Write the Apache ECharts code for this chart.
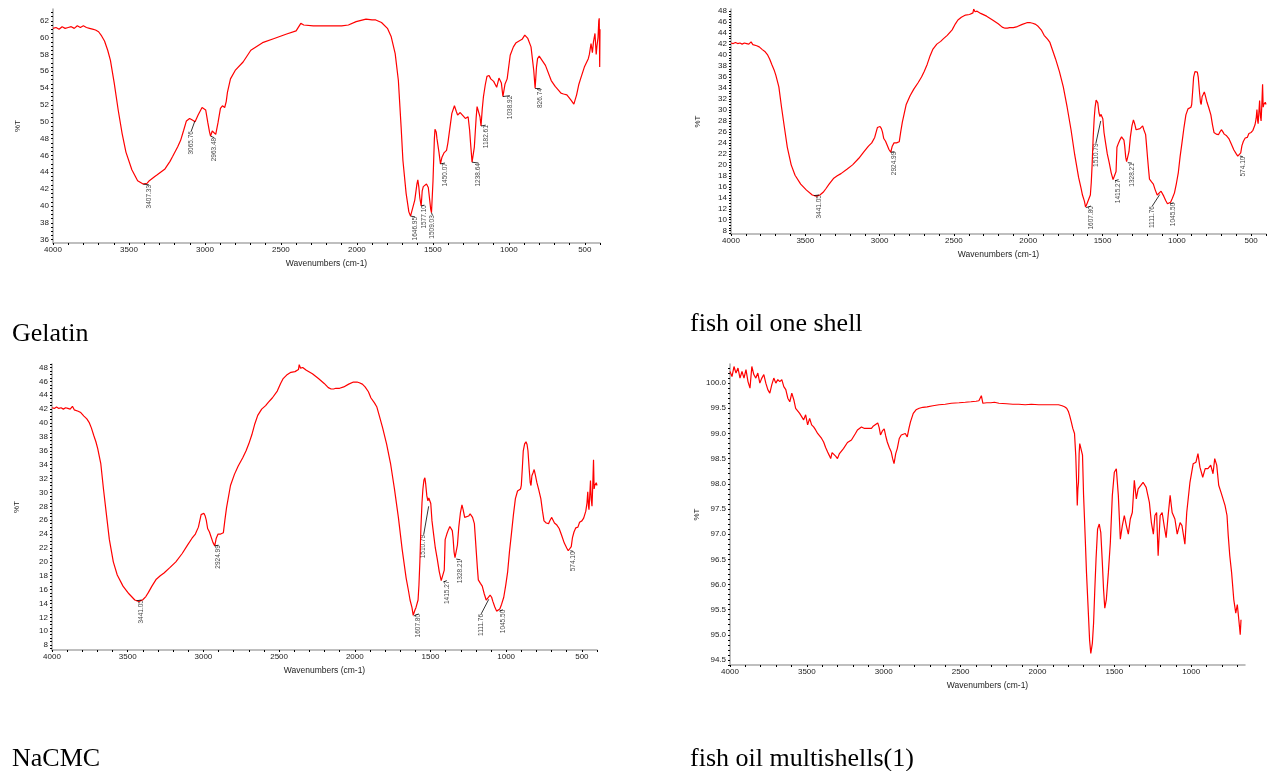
<!DOCTYPE html>
<html>
<head>
<meta charset="utf-8">
<style>
  html, body { margin: 0; padding: 0; background: #fff; }
  #chart { width: 1268px; height: 771px; }
</style>
<script src="https://cdn.jsdelivr.net/npm/echarts@6/dist/echarts.min.js"></script>
</head>
<body>
<div id="chart"></div>
<script>
// spectra, [wavenumber cm-1, %T]
const gelatin = [
  [4000,61.1],[3980,61.2],[3960,61.0],[3940,61.3],[3920,61.1],[3900,61.2],[3880,61.3],[3860,61.1],[3840,61.4],[3820,61.2],
  [3800,61.4],[3780,61.2],[3760,61.1],[3740,61.0],[3720,60.9],[3700,60.7],[3680,60.2],[3661,59.6],[3640,58.5],[3622,57.3],
  [3597,54.6],[3571,51.4],[3545,48.6],[3520,46.4],[3481,44.3],[3443,43.0],[3407,42.6],[3380,42.7],[3366,43.0],[3330,43.5],
  [3314,43.7],[3263,44.4],[3230,45.3],[3212,45.9],[3180,47.0],[3160,47.8],[3140,49.0],[3122,50.1],[3101,50.4],[3083,50.2],
  [3065,50.0],[3045,50.8],[3019,51.7],[3006,51.8],[2995,51.4],[2981,49.9],[2970,48.8],[2963,48.3],[2952,48.9],[2942,48.8],
  [2929,48.5],[2914,49.9],[2898,51.6],[2885,51.9],[2870,51.7],[2860,52.4],[2852,53.5],[2832,55.1],[2801,56.1],[2749,57.1],
  [2698,58.5],[2621,59.4],[2544,59.9],[2467,60.4],[2400,60.8],[2369,61.7],[2350,61.5],[2339,61.5],[2287,61.4],[2200,61.4],
  [2100,61.4],[2056,61.5],[2005,61.9],[1940,62.2],[1900,62.1],[1876,62.1],[1838,61.8],[1799,61.1],[1774,60.1],[1748,58.1],
  [1727,54.9],[1709,49.4],[1697,45.4],[1676,41.5],[1658,39.3],[1647,38.8],[1635,39.0],[1619,40.7],[1605,42.6],[1599,43.1],
  [1592,42.2],[1586,41.0],[1577,40.0],[1570,41.8],[1563,42.3],[1550,42.4],[1542,42.6],[1530,42.2],[1524,42.0],[1514,39.6],
  [1509,39.2],[1499,43.0],[1490,48.0],[1486,49.1],[1478,48.8],[1473,48.0],[1460,46.4],[1450,45.0],[1440,45.8],[1427,46.3],
  [1410,46.6],[1401,47.5],[1375,51.0],[1358,51.9],[1345,51.2],[1337,50.8],[1320,51.1],[1311,51.0],[1286,50.4],[1268,50.6],
  [1258,49.0],[1252,47.5],[1242,45.2],[1235,45.4],[1227,47.0],[1215,50.5],[1209,51.8],[1196,51.9],[1190,50.6],[1183,49.5],
  [1175,51.5],[1167,53.0],[1155,54.4],[1144,55.4],[1130,55.5],[1119,55.1],[1100,54.8],[1093,54.7],[1080,54.1],[1065,55.2],
  [1055,55.0],[1049,54.6],[1039,53.0],[1025,54.5],[1011,55.1],[991,57.9],[970,58.9],[952,59.4],[913,59.8],[895,60.3],
  [875,59.9],[854,58.9],[836,56.1],[827,54.0],[818,56.5],[811,57.5],[800,57.8],[793,57.6],[759,56.7],[721,54.9],
  [695,54.2],[675,53.8],[657,53.4],[640,53.3],[618,53.2],[592,52.6],[572,52.1],[562,52.0],[554,53.2],[540,54.4],
  [528,55.1],[503,56.5],[477,57.5],[470,58.0],[459,59.3],[450,58.2],[443,59.5],[433,60.5],[425,58.0],[420,59.0],
  [413,60.0],[408,62.0],[405,62.3],[402,56.5],[400,61.0]
];

// "fish oil one shell" and "NaCMC" show the same trace
const oneShell = [
  [4000,42.2],[3985,42.1],[3970,42.3],[3955,42.1],[3940,42.2],[3925,42.0],[3910,42.2],[3895,42.1],[3880,42.0],[3865,42.4],
  [3853,41.9],[3840,41.9],[3827,41.7],[3810,41.5],[3789,41.0],[3770,40.6],[3755,40.1],[3740,39.3],[3724,38.2],[3710,37.3],
  [3698,36.3],[3678,34.2],[3660,30.5],[3641,26.9],[3621,23.2],[3595,20.0],[3569,18.1],[3531,16.5],[3492,15.4],[3453,14.5],
  [3441,14.4],[3427,14.3],[3402,14.5],[3380,15.0],[3363,15.6],[3340,16.5],[3311,17.5],[3285,18.0],[3260,18.4],[3220,19.2],
  [3182,20.0],[3140,21.2],[3105,22.4],[3075,23.4],[3053,24.0],[3033,25.0],[3015,26.8],[3005,27.0],[2997,27.0],[2988,26.6],
  [2981,26.0],[2972,24.8],[2960,24.3],[2950,24.2],[2937,22.8],[2925,22.3],[2915,23.4],[2903,24.0],[2886,24.0],[2868,24.2],
  [2858,26.0],[2847,27.8],[2821,31.0],[2795,32.6],[2770,33.8],[2740,35.0],[2718,36.0],[2700,37.0],[2680,38.3],[2660,39.9],
  [2641,41.1],[2615,42.0],[2589,42.5],[2570,43.0],[2545,43.6],[2512,44.6],[2490,45.7],[2473,46.4],[2450,46.9],[2422,47.3],
  [2395,47.4],[2383,47.5],[2372,47.7],[2367,48.4],[2358,47.9],[2344,48.0],[2320,47.6],[2280,47.1],[2240,46.4],[2202,45.7],
  [2175,45.1],[2156,44.9],[2140,44.9],[2125,45.0],[2100,45.0],[2073,45.2],[2040,45.6],[2009,45.9],[1985,45.9],[1970,45.8],
  [1950,45.6],[1932,45.2],[1910,44.5],[1893,43.6],[1870,42.9],[1854,42.3],[1835,40.8],[1816,39.3],[1790,37.0],[1764,34.2],
  [1738,30.5],[1712,26.4],[1687,21.8],[1661,17.7],[1645,15.8],[1635,14.5],[1622,13.4],[1614,12.3],[1608,12.2],[1602,13.1],
  [1596,13.4],[1589,13.3],[1582,14.5],[1576,16.7],[1570,20.0],[1563,25.0],[1556,28.5],[1550,30.5],[1543,31.8],[1537,32.1],
  [1532,31.3],[1524,29.5],[1517,28.8],[1511,29.2],[1505,29.0],[1498,28.4],[1490,25.9],[1480,24.1],[1468,22.0],[1455,20.4],
  [1442,18.6],[1429,17.3],[1416,17.1],[1409,18.8],[1403,23.2],[1392,24.0],[1382,24.6],[1372,25.1],[1364,25.0],[1356,24.5],
  [1351,23.5],[1344,21.4],[1338,20.6],[1330,20.4],[1322,22.4],[1313,25.0],[1302,27.1],[1292,28.2],[1284,27.5],[1274,26.4],
  [1262,26.5],[1248,26.6],[1238,26.9],[1230,27.1],[1222,26.4],[1210,25.5],[1204,23.6],[1197,21.3],[1190,19.1],[1184,17.4],
  [1170,16.9],[1158,16.5],[1145,15.4],[1132,14.5],[1120,14.6],[1106,15.2],[1096,14.9],[1088,14.3],[1075,13.5],[1063,12.9],
  [1050,13.0],[1042,13.2],[1030,13.9],[1016,14.9],[1003,16.6],[990,18.6],[978,21.5],[965,24.1],[952,26.8],[939,29.1],
  [925,30.2],[918,30.3],[905,30.5],[900,31.0],[893,33.6],[887,36.0],[878,37.0],[869,37.3],[862,36.9],[856,36.0],
  [848,33.4],[841,31.4],[836,31.0],[830,32.4],[823,32.8],[815,33.3],[806,32.4],[797,31.4],[785,30.4],[771,29.1],
  [760,27.3],[750,25.9],[735,25.6],[720,25.5],[710,26.0],[699,26.4],[690,26.0],[681,25.6],[665,25.3],[650,24.8],
  [635,23.9],[616,22.7],[600,22.0],[590,21.6],[578,21.5],[570,22.2],[562,23.5],[552,24.3],[540,24.9],[526,25.0],
  [515,25.7],[500,25.9],[488,26.3],[474,27.3],[466,28.5],[461,30.1],[456,28.0],[453,27.5],[448,29.5],[443,31.7],
  [438,29.0],[433,28.0],[428,31.0],[423,34.7],[419,30.5],[415,31.0],[410,31.2],[405,31.4],[400,31.0]
];

const multiShells = [
  [4000,100.23],[3987,100.13],[3974,100.33],[3961,100.2],[3948,100.3],[3935,100.1],[3922,100.23],[3909,100.1],[3896,100.27],[3883,100.03],
  [3870,99.9],[3858,100.33],[3845,100.17],[3832,100.1],[3819,100.2],[3806,100.0],[3793,100.1],[3780,100.17],[3767,100.0],[3754,99.87],
  [3741,99.8],[3728,99.97],[3715,100.1],[3702,100.0],[3689,100.07],[3676,100.03],[3663,100.07],[3650,99.93],[3637,99.87],[3624,99.7],
  [3611,99.63],[3598,99.8],[3585,99.67],[3573,99.5],[3560,99.47],[3547,99.4],[3534,99.43],[3521,99.27],[3508,99.37],[3495,99.17],
  [3482,99.3],[3469,99.17],[3456,99.13],[3443,99.07],[3430,99.0],[3417,98.97],[3404,98.9],[3391,98.83],[3378,98.72],[3365,98.63],
  [3352,98.55],[3345,98.5],[3336,98.62],[3326,98.6],[3313,98.55],[3301,98.5],[3288,98.6],[3275,98.63],[3262,98.7],[3249,98.73],
  [3236,98.82],[3223,98.83],[3210,98.87],[3197,98.9],[3184,99.0],[3171,99.07],[3158,99.1],[3145,99.13],[3125,99.1],[3106,99.1],
  [3093,99.13],[3080,99.1],[3067,99.15],[3054,99.17],[3039,99.21],[3030,99.12],[3021,98.97],[3009,99.05],[2997,99.09],[2987,98.95],
  [2977,98.83],[2964,98.72],[2951,98.63],[2942,98.5],[2933,98.4],[2922,98.6],[2912,98.7],[2899,98.9],[2886,98.97],[2873,99.0],
  [2860,99.0],[2847,98.93],[2836,99.1],[2826,99.23],[2808,99.4],[2790,99.47],[2769,99.5],[2745,99.52],[2718,99.53],[2680,99.55],
  [2640,99.57],[2600,99.58],[2560,99.6],[2510,99.61],[2470,99.62],[2433,99.63],[2400,99.64],[2381,99.65],[2365,99.75],[2355,99.6],
  [2330,99.61],[2303,99.61],[2280,99.62],[2251,99.6],[2200,99.59],[2160,99.58],[2122,99.58],[2080,99.57],[2040,99.58],[1992,99.57],
  [1950,99.57],[1900,99.57],[1863,99.57],[1840,99.55],[1824,99.53],[1810,99.5],[1798,99.43],[1790,99.35],[1780,99.23],[1770,99.1],
  [1759,99.0],[1751,98.57],[1745,98.0],[1741,97.57],[1737,97.9],[1733,98.03],[1729,98.6],[1725,98.8],[1715,98.77],[1707,98.57],
  [1700,97.77],[1694,97.3],[1689,96.9],[1681,96.23],[1671,95.57],[1661,94.9],[1653,94.63],[1643,94.83],[1635,95.23],[1627,95.9],
  [1619,96.5],[1609,97.1],[1598,97.2],[1588,97.03],[1578,96.43],[1570,95.9],[1562,95.53],[1552,95.7],[1539,96.23],[1526,96.83],
  [1513,97.77],[1500,98.23],[1487,98.3],[1474,97.77],[1461,96.9],[1448,97.17],[1435,97.37],[1422,97.17],[1409,97.0],[1396,97.3],
  [1383,97.43],[1370,98.07],[1357,97.7],[1345,97.9],[1332,97.93],[1313,98.03],[1293,97.93],[1272,97.63],[1259,97.23],[1246,97.0],
  [1236,97.37],[1225,97.43],[1215,96.57],[1202,97.37],[1189,97.43],[1176,97.17],[1163,96.93],[1150,97.37],[1137,97.77],[1124,97.43],
  [1106,97.3],[1091,97.0],[1072,97.23],[1060,97.17],[1041,96.8],[1029,97.43],[1008,98.03],[987,98.4],[969,98.43],[956,98.6],
  [943,98.33],[925,98.13],[909,98.3],[891,98.3],[873,98.37],[858,98.2],[847,98.5],[834,98.37],[821,97.97],[806,97.83],
  [793,97.83],[780,97.57],[767,97.37],[759,96.97],[749,96.57],[737,96.23],[723,95.7],[710,95.43],[700,95.6],[688,95.23],
  [681,95.0],[676,95.3]
];

// peak labels: [text, point on trace, label anchor] in axis units
const gelatinPeaks = [
  ['3407.33', [3405, 42.6], [3368, 42.5]],
  ['3065.76', [3066, 50.1], [3090, 48.9]],
  ['2963.48', [2963, 48.3], [2938, 48.1]],
  ['1646.95', [1647, 38.8], [1617, 38.7]],
  ['1577.10', [1577, 40.0], [1556, 40.1]],
  ['1509.03', [1509, 39.2], [1503, 38.9]],
  ['1450.07', [1450, 45.0], [1420, 45.1]],
  ['1238.64', [1242, 45.2], [1200, 45.1]],
  ['1182.61', [1183, 49.5], [1152, 49.6]],
  ['1038.92', [1039, 53.0], [993, 53.1]],
  ['826.74', [827, 54.0], [795, 54.0]]
];
const shellPeaks = [
  ['3441.05', [3441, 14.4], [3408, 14.5]],
  ['2924.99', [2925, 22.3], [2900, 22.4]],
  ['1607.80', [1610, 12.2], [1578, 12.5]],
  ['1510.79', [1512, 28.0], [1545, 23.9]],
  ['1415.27', [1416, 17.1], [1392, 17.3]],
  ['1328.21', [1330, 20.4], [1302, 20.3]],
  ['1111.76', [1115, 14.6], [1165, 12.5]],
  ['1045.50', [1045, 12.9], [1022, 13.1]],
  ['574.10', [576, 21.6], [556, 21.5]]
];

const xLabels = [4000, 3500, 3000, 2500, 2000, 1500, 1000, 500];
const xLabelsMulti = [4000, 3500, 3000, 2500, 2000, 1500, 1000];
const gelatinYLabels = [36, 38, 40, 42, 44, 46, 48, 50, 52, 54, 56, 58, 60, 62];
const shellYLabels = [8, 10, 12, 14, 16, 18, 20, 22, 24, 26, 28, 30, 32, 34, 36, 38, 40, 42, 44, 46, 48];
const multiYLabels = [94.5, 95.0, 95.5, 96.0, 96.5, 97.0, 97.5, 98.0, 98.5, 99.0, 99.5, 100.0];

const panels = [
  { title: 'Gelatin', data: gelatin, peaks: gelatinPeaks,
    grid: { left: 53, top: 9, width: 547, height: 234 }, titlePos: { left: 12, top: 321 }, yNameGap: 31,
    x: [400, 4000], xLabels: xLabels, y: [35.6, 63.4], yLabels: gelatinYLabels, yStep: 0.5, dec: 0 },
  { title: 'fish oil one shell', data: oneShell, peaks: shellPeaks,
    grid: { left: 731, top: 9, width: 535, height: 225 }, titlePos: { left: 690, top: 311 }, yNameGap: 29,
    x: [400, 4000], xLabels: xLabels, y: [7.4, 48.4], yLabels: shellYLabels, yStep: 0.5, dec: 0 },
  { title: 'NaCMC', data: oneShell, peaks: shellPeaks,
    grid: { left: 52, top: 364, width: 545, height: 286 }, titlePos: { left: 12, top: 746 }, yNameGap: 31,
    x: [400, 4000], xLabels: xLabels, y: [7.3, 48.5], yLabels: shellYLabels, yStep: 0.5, dec: 0 },
  { title: 'fish oil multishells(1)', data: multiShells, peaks: [],
    grid: { left: 730, top: 364, width: 515, height: 301 }, titlePos: { left: 690, top: 746 }, yNameGap: 29,
    x: [650, 4000], xLabels: xLabelsMulti, y: [94.4, 100.38], yLabels: multiYLabels, yStep: 0.1, dec: 1 }
];

function ticks(from, to, step) {
  const out = [];
  for (let v = Math.ceil(from / step) * step; v <= to + 1e-9; v += step) out.push(+v.toFixed(3));
  return out;
}

const font = 'Arial, "Liberation Sans", sans-serif';
const option = { animation: false, title: [], grid: [], xAxis: [], yAxis: [], series: [] };

panels.forEach((p, i) => {
  option.title.push({
    text: p.title, left: p.titlePos.left, top: p.titlePos.top, padding: 0,
    textStyle: { fontFamily: '"Liberation Serif", "Times New Roman", serif', fontSize: 26, fontWeight: 'normal', color: '#000' }
  });
  option.grid.push(p.grid);
  option.xAxis.push({
    gridIndex: i, type: 'value', inverse: true, min: p.x[0], max: p.x[1],
    name: 'Wavenumbers (cm-1)', nameLocation: 'middle', nameGap: 16,
    nameTextStyle: { fontFamily: font, fontSize: 8.5, color: '#222' },
    axisLine: { lineStyle: { color: '#aaa', width: 1.5 } },
    axisTick: { customValues: ticks(p.x[0], p.x[1], 100), length: 2, lineStyle: { color: '#000', width: 1 } },
    axisLabel: { customValues: p.xLabels, fontFamily: font, fontSize: 8, color: '#222', margin: 3,
      formatter: v => String(v) },
    splitLine: { show: false }
  });
  option.yAxis.push({
    gridIndex: i, type: 'value', min: p.y[0], max: p.y[1],
    name: '%T', nameLocation: 'middle', nameGap: p.yNameGap,
    nameTextStyle: { fontFamily: font, fontSize: 8, color: '#222' },
    axisLine: { show: true, lineStyle: { color: '#aaa', width: 1.5 } },
    axisTick: { customValues: ticks(p.y[0], p.y[1], p.yStep), length: 2, lineStyle: { color: '#000', width: 1 } },
    axisLabel: { customValues: p.yLabels, fontFamily: font, fontSize: 8, color: '#222', margin: 4,
      formatter: v => v.toFixed(p.dec) },
    splitLine: { show: false }
  });
  option.series.push({
    type: 'line', xAxisIndex: i, yAxisIndex: i, data: p.data, showSymbol: false, silent: true,
    lineStyle: { color: '#ff0000', width: 1.2 },
    markLine: {
      silent: true, symbol: 'none', label: { show: false },
      lineStyle: { color: '#000', width: 0.8, type: 'solid' },
      data: p.peaks.map(pk => [{ coord: pk[1] }, { coord: pk[2] }])
    }
  });
  if (p.peaks.length) {
    option.series.push({
      type: 'scatter', xAxisIndex: i, yAxisIndex: i, symbolSize: 0, silent: true,
      data: p.peaks.map(pk => ({ value: pk[2], name: pk[0] })),
      label: {
        show: true, formatter: '{b}', position: 'inside', rotate: 90,
        align: 'right', verticalAlign: 'middle',
        fontFamily: font, fontSize: 6.5, color: '#111'
      }
    });
  }
});

const chart = echarts.init(document.getElementById('chart'), null, { renderer: 'canvas' });
chart.setOption(option);
</script>
</body>
</html>
